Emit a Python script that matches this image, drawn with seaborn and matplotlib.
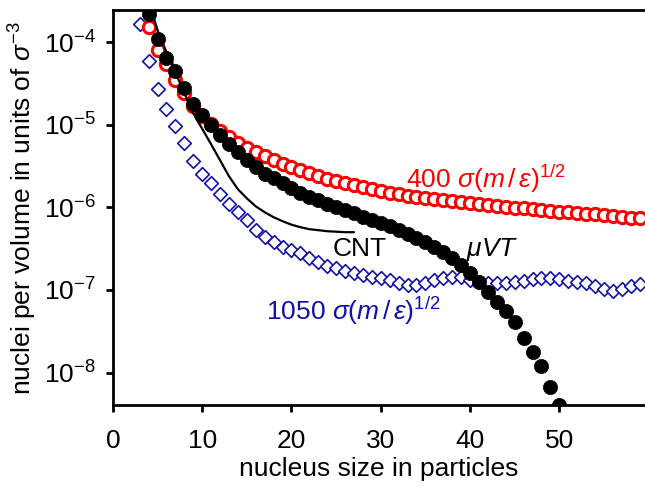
import numpy as np
import pandas as pd
import matplotlib
matplotlib.use("Agg")
import matplotlib.pyplot as plt
import seaborn as sns
from matplotlib.ticker import FixedLocator, NullLocator, FixedFormatter

# muVT simulation (filled black circles)
n_muvt = list(range(4, 51))
muvt = [2.18e-4, 1.08e-4, 6.5e-5, 4.45e-5, 2.8e-5, 1.77e-5, 1.31e-5, 1.0e-5,
        7.5e-6, 5.9e-6, 4.7e-6, 3.7e-6, 3.1e-6, 2.57e-6, 2.24e-6, 1.95e-6,
        1.70e-6, 1.50e-6, 1.35e-6, 1.22e-6, 1.09e-6, 1.00e-6, 9.2e-7, 8.46e-7,
        7.67e-7, 6.96e-7, 6.44e-7, 5.92e-7, 5.29e-7, 4.74e-7, 4.24e-7, 3.79e-7,
        3.30e-7, 2.87e-7, 2.43e-7, 2.00e-7, 1.60e-7, 1.24e-7, 9.4e-8, 7.1e-8,
        5.53e-8, 4.07e-8, 2.61e-8, 1.77e-8, 1.19e-8, 6.65e-9, 4.03e-9]

# t = 400 sigma (m/eps)^1/2 (open red circles)
n_400 = list(range(4, 60))
t400 = [1.53e-4, 8.16e-5, 5.42e-5, 3.53e-5, 2.43e-5, 1.68e-5, 1.27e-5, 1.02e-5,
        8.37e-6, 7.08e-6, 5.99e-6, 5.21e-6, 4.66e-6, 4.17e-6, 3.73e-6, 3.33e-6,
        3.07e-6, 2.82e-6, 2.59e-6, 2.39e-6, 2.19e-6, 2.07e-6, 1.96e-6, 1.86e-6,
        1.76e-6, 1.66e-6, 1.57e-6, 1.51e-6, 1.45e-6, 1.39e-6, 1.33e-6, 1.29e-6,
        1.26e-6, 1.22e-6, 1.19e-6, 1.16e-6, 1.12e-6, 1.09e-6, 1.06e-6, 1.03e-6,
        1.01e-6, 9.95e-7, 9.78e-7, 9.51e-7, 9.25e-7, 9.07e-7, 8.90e-7, 8.75e-7,
        8.51e-7, 8.39e-7, 8.28e-7, 8.05e-7, 7.82e-7, 7.67e-7, 7.53e-7, 7.40e-7]

# t = 1050 sigma (m/eps)^1/2 (open blue diamonds)
n_1050 = list(range(3, 60))
t1050 = [1.64e-4, 5.94e-5, 2.75e-5, 1.57e-5, 9.62e-6, 5.94e-6, 3.63e-6, 2.57e-6,
         1.95e-6, 1.47e-6, 1.11e-6, 8.82e-7, 7.00e-7, 5.40e-7, 4.39e-7, 3.82e-7,
         3.32e-7, 3.03e-7, 2.79e-7, 2.43e-7, 2.17e-7, 1.94e-7, 1.84e-7, 1.69e-7,
         1.60e-7, 1.51e-7, 1.43e-7, 1.39e-7, 1.32e-7, 1.21e-7, 1.14e-7, 1.14e-7,
         1.21e-7, 1.32e-7, 1.39e-7, 1.43e-7, 1.43e-7, 1.32e-7, 1.24e-7, 1.21e-7,
         1.21e-7, 1.21e-7, 1.24e-7, 1.28e-7, 1.35e-7, 1.39e-7, 1.39e-7, 1.35e-7,
         1.28e-7, 1.24e-7, 1.21e-7, 1.11e-7, 1.02e-7, 9.7e-8, 1.02e-7, 1.11e-7,
         1.17e-7]

# classical nucleation theory (black line)
n_cnt = list(range(4, 28))
cnt = [3.2e-4, 1.40e-4, 7.57e-5, 4.33e-5, 2.42e-5, 1.38e-5, 8.97e-6, 5.82e-6,
       3.73e-6, 2.39e-6, 1.66e-6, 1.29e-6, 1.03e-6, 8.75e-7, 7.61e-7, 6.81e-7,
       6.18e-7, 5.76e-7, 5.45e-7, 5.30e-7, 5.15e-7, 5.08e-7, 5.01e-7, 5.01e-7]

x_ticks = [0, 10, 20, 30, 40, 50]
y_ticks = [1e-8, 1e-7, 1e-6, 1e-5, 1e-4]
y_ticklabels = ["10$^{\\mathregular{-8}}$", "10$^{\\mathregular{-7}}$",
                "10$^{\\mathregular{-6}}$", "10$^{\\mathregular{-5}}$",
                "10$^{\\mathregular{-4}}$"]

sns.set_style("ticks")
plt.rcParams["font.family"] = ["Liberation Sans", "DejaVu Sans"]
plt.rcParams["mathtext.fontset"] = "custom"
plt.rcParams["mathtext.rm"] = "Liberation Sans"
plt.rcParams["mathtext.it"] = "Liberation Sans:italic"
plt.rcParams["mathtext.bf"] = "Liberation Sans:bold"
plt.rcParams["text.color"] = "black"
plt.rcParams["axes.labelcolor"] = "black"

fig = plt.figure(figsize=(6.45, 4.87), dpi=100)
ax = fig.add_axes([0.175, 0.168, 0.825, 0.811])

blue = "#1010aa"
sns.scatterplot(x=n_1050, y=t1050, marker="D", s=48, facecolor="white",
                edgecolor=blue, linewidth=1.2, ax=ax, zorder=2)
sns.scatterplot(x=n_400, y=t400, marker="o", s=78, facecolor="white",
                edgecolor="#ff0000", linewidth=2.2, ax=ax, zorder=3)
sns.lineplot(x=n_cnt, y=cnt, color="black", linewidth=1.6, ax=ax, zorder=4)
sns.scatterplot(x=n_muvt, y=muvt, marker="o", s=105, color="black",
                edgecolor="black", linewidth=0.5, ax=ax, zorder=5)

ax.set_yscale("log")
ax.set_xlim(0, 59.6)
ax.set_ylim(4.03e-9, 2.44e-4)
ax.xaxis.set_major_locator(FixedLocator(x_ticks))
ax.yaxis.set_major_locator(FixedLocator(y_ticks))
ax.yaxis.set_major_formatter(FixedFormatter(y_ticklabels))
ax.yaxis.set_minor_locator(NullLocator())

for side in ["left", "bottom", "top"]:
    ax.spines[side].set_linewidth(2.0)
    ax.spines[side].set_color("black")
ax.spines["right"].set_visible(False)
ax.tick_params(axis="both", which="major", direction="out", length=5,
               width=2.0, labelsize=19, colors="black")
ax.tick_params(axis="x", pad=12)
ax.tick_params(axis="y", pad=7)

ax.set_xlabel("nucleus size in particles", fontsize=19, labelpad=3)
ax.set_ylabel(r"nuclei per volume in units of $\sigma^{\mathregular{-3}}$",
              fontsize=19, labelpad=4)

ax.text(32.8, 1.71e-6, r"400 $\sigma(m\,/\,\varepsilon)^{1/2}$", color="#ff0000",
        fontsize=19, va="baseline")
ax.text(17.2, 4.31e-8, r"1050 $\sigma(m\,/\,\varepsilon)^{1/2}$", color=blue,
        fontsize=19, va="baseline")
ax.text(24.6, 2.57e-7, "CNT", color="black", fontsize=19, va="baseline")
ax.text(39.6, 2.57e-7, r"$\mu VT$", color="black", fontsize=19, va="baseline")

fig.savefig("out.png", dpi=100)
